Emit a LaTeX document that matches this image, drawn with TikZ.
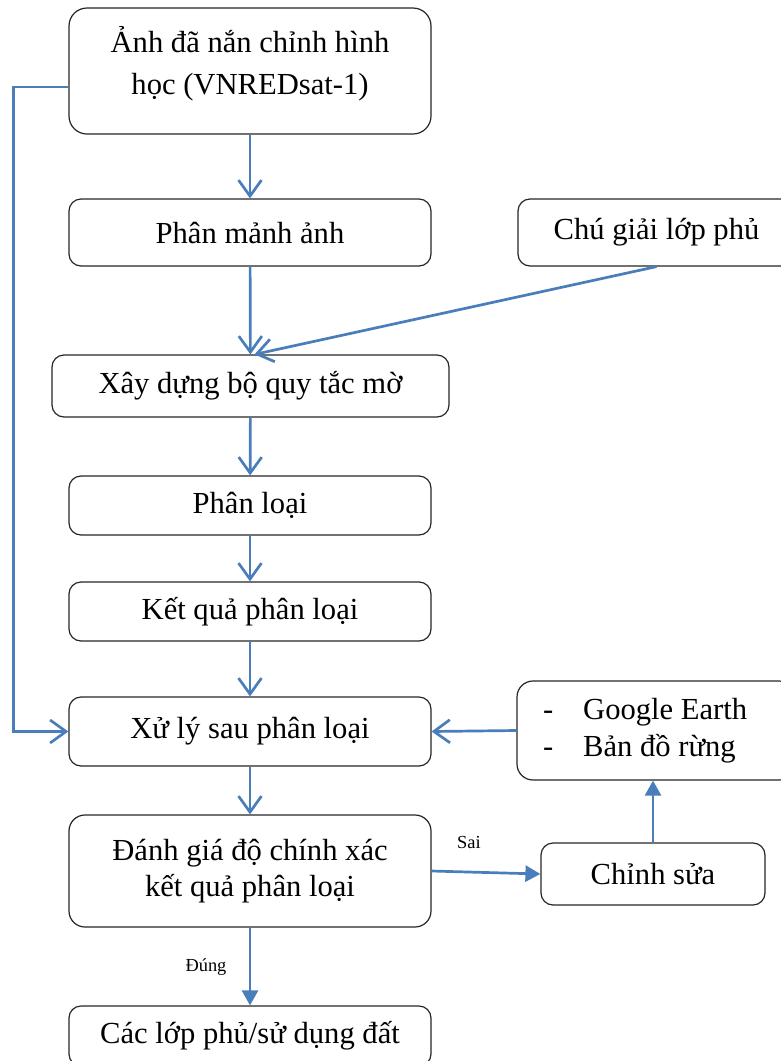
\documentclass[tikz,border=0pt]{standalone}
\usepackage{fontspec}
\setmainfont{Liberation Serif}
\usetikzlibrary{arrows.meta}
\definecolor{flowblue}{HTML}{4A7EBB}

\begin{document}
\begin{tikzpicture}[x=0.5pt,y=-0.5pt,
		box/.style={draw=black!85,line width=0.6pt,rounded corners=6pt,fill=white,minimum width=181pt,inner sep=0pt,align=center,font=\fontsize{15.3}{18}\selectfont},
		flow/.style={draw=flowblue,line width=1.35pt,-{Straight Barb[length=8pt,width=11.5pt]}},
		flowfill/.style={draw=flowblue,line width=1.35pt,-{Triangle[length=7.5pt,width=8pt]}},
		tag/.style={font=\fontsize{9.2}{11}\selectfont,inner sep=0pt}]
		\clip (0,0) rectangle (781,1061);
		\node[box,minimum height=63pt,rounded corners=9pt,font=\fontsize{15.3}{21}\selectfont] (img) at (250,71) {\begin{tabular}{@{}c@{}}Ảnh đã nắn chỉnh hình\\học (VNREDsat-1)\\[6pt]\end{tabular}};
		\node[box,minimum height=33.5pt] (seg) at (250,232.5) {Phân mảnh ảnh};
		\node[box,minimum height=33.5pt,minimum width=138.5pt] (legend) at (656.5,232.5) {Chú giải lớp phủ};
		\node[box,minimum height=31pt,minimum width=198.5pt] (rules) at (250.5,386) {Xây dựng bộ quy tắc mờ};
		\node[box,minimum height=29.5pt] (cls) at (250,505.5) {Phân loại};
		\node[box,minimum height=29.5pt] (res) at (250,611.5) {Kết quả phân loại};
		\node[box,minimum height=34.5pt] (post) at (250,731.5) {Xử lý sau phân loại};
		\node[box,minimum height=49.5pt,minimum width=139pt,rounded corners=8pt] (ref) at (656,730.5) {\makebox[113pt][l]{\fontsize{15.3}{18.5}\selectfont\begin{tabular}{@{}l@{\hspace{15pt}}l@{}}-&Google Earth\\-&Bản đồ rừng\end{tabular}}};
		\node[box,minimum height=56pt,rounded corners=8pt] (acc) at (250,871) {Đánh giá độ chính xác\\kết quả phân loại};
		\node[box,minimum height=31pt,minimum width=112pt] (fix) at (653,874) {Chỉnh sửa};
		\node[box,minimum height=30pt] (out) at (250,1036) {Các lớp phủ/sử dụng đất};
		\node[tag] (no) at (469,842) {Sai};
		\node[tag] (yes) at (206,967) {Đúng};
		\draw[flow] (img) -- (seg);
		\draw[flow] (seg) -- (rules);
		\draw[flow] (legend.south) -- ([xshift=2pt]rules.north);
		\draw[flow] (rules) -- (cls);
		\draw[flow] (cls) -- (res);
		\draw[flow] (res) -- (post);
		\draw[flow] ([yshift=-8pt]img.west) -- ++(-55,0) |- (post.west);
		\draw[flow] (ref.west) -- (post.east);
		\draw[flow] (post) -- (acc);
		\draw[flowfill] (acc.east) -- (fix.west);
		\draw[flowfill] (fix.north) -- (fix.north |- ref.south);
		\draw[flowfill] (acc) -- (out);
	\end{tikzpicture}
\end{document}
